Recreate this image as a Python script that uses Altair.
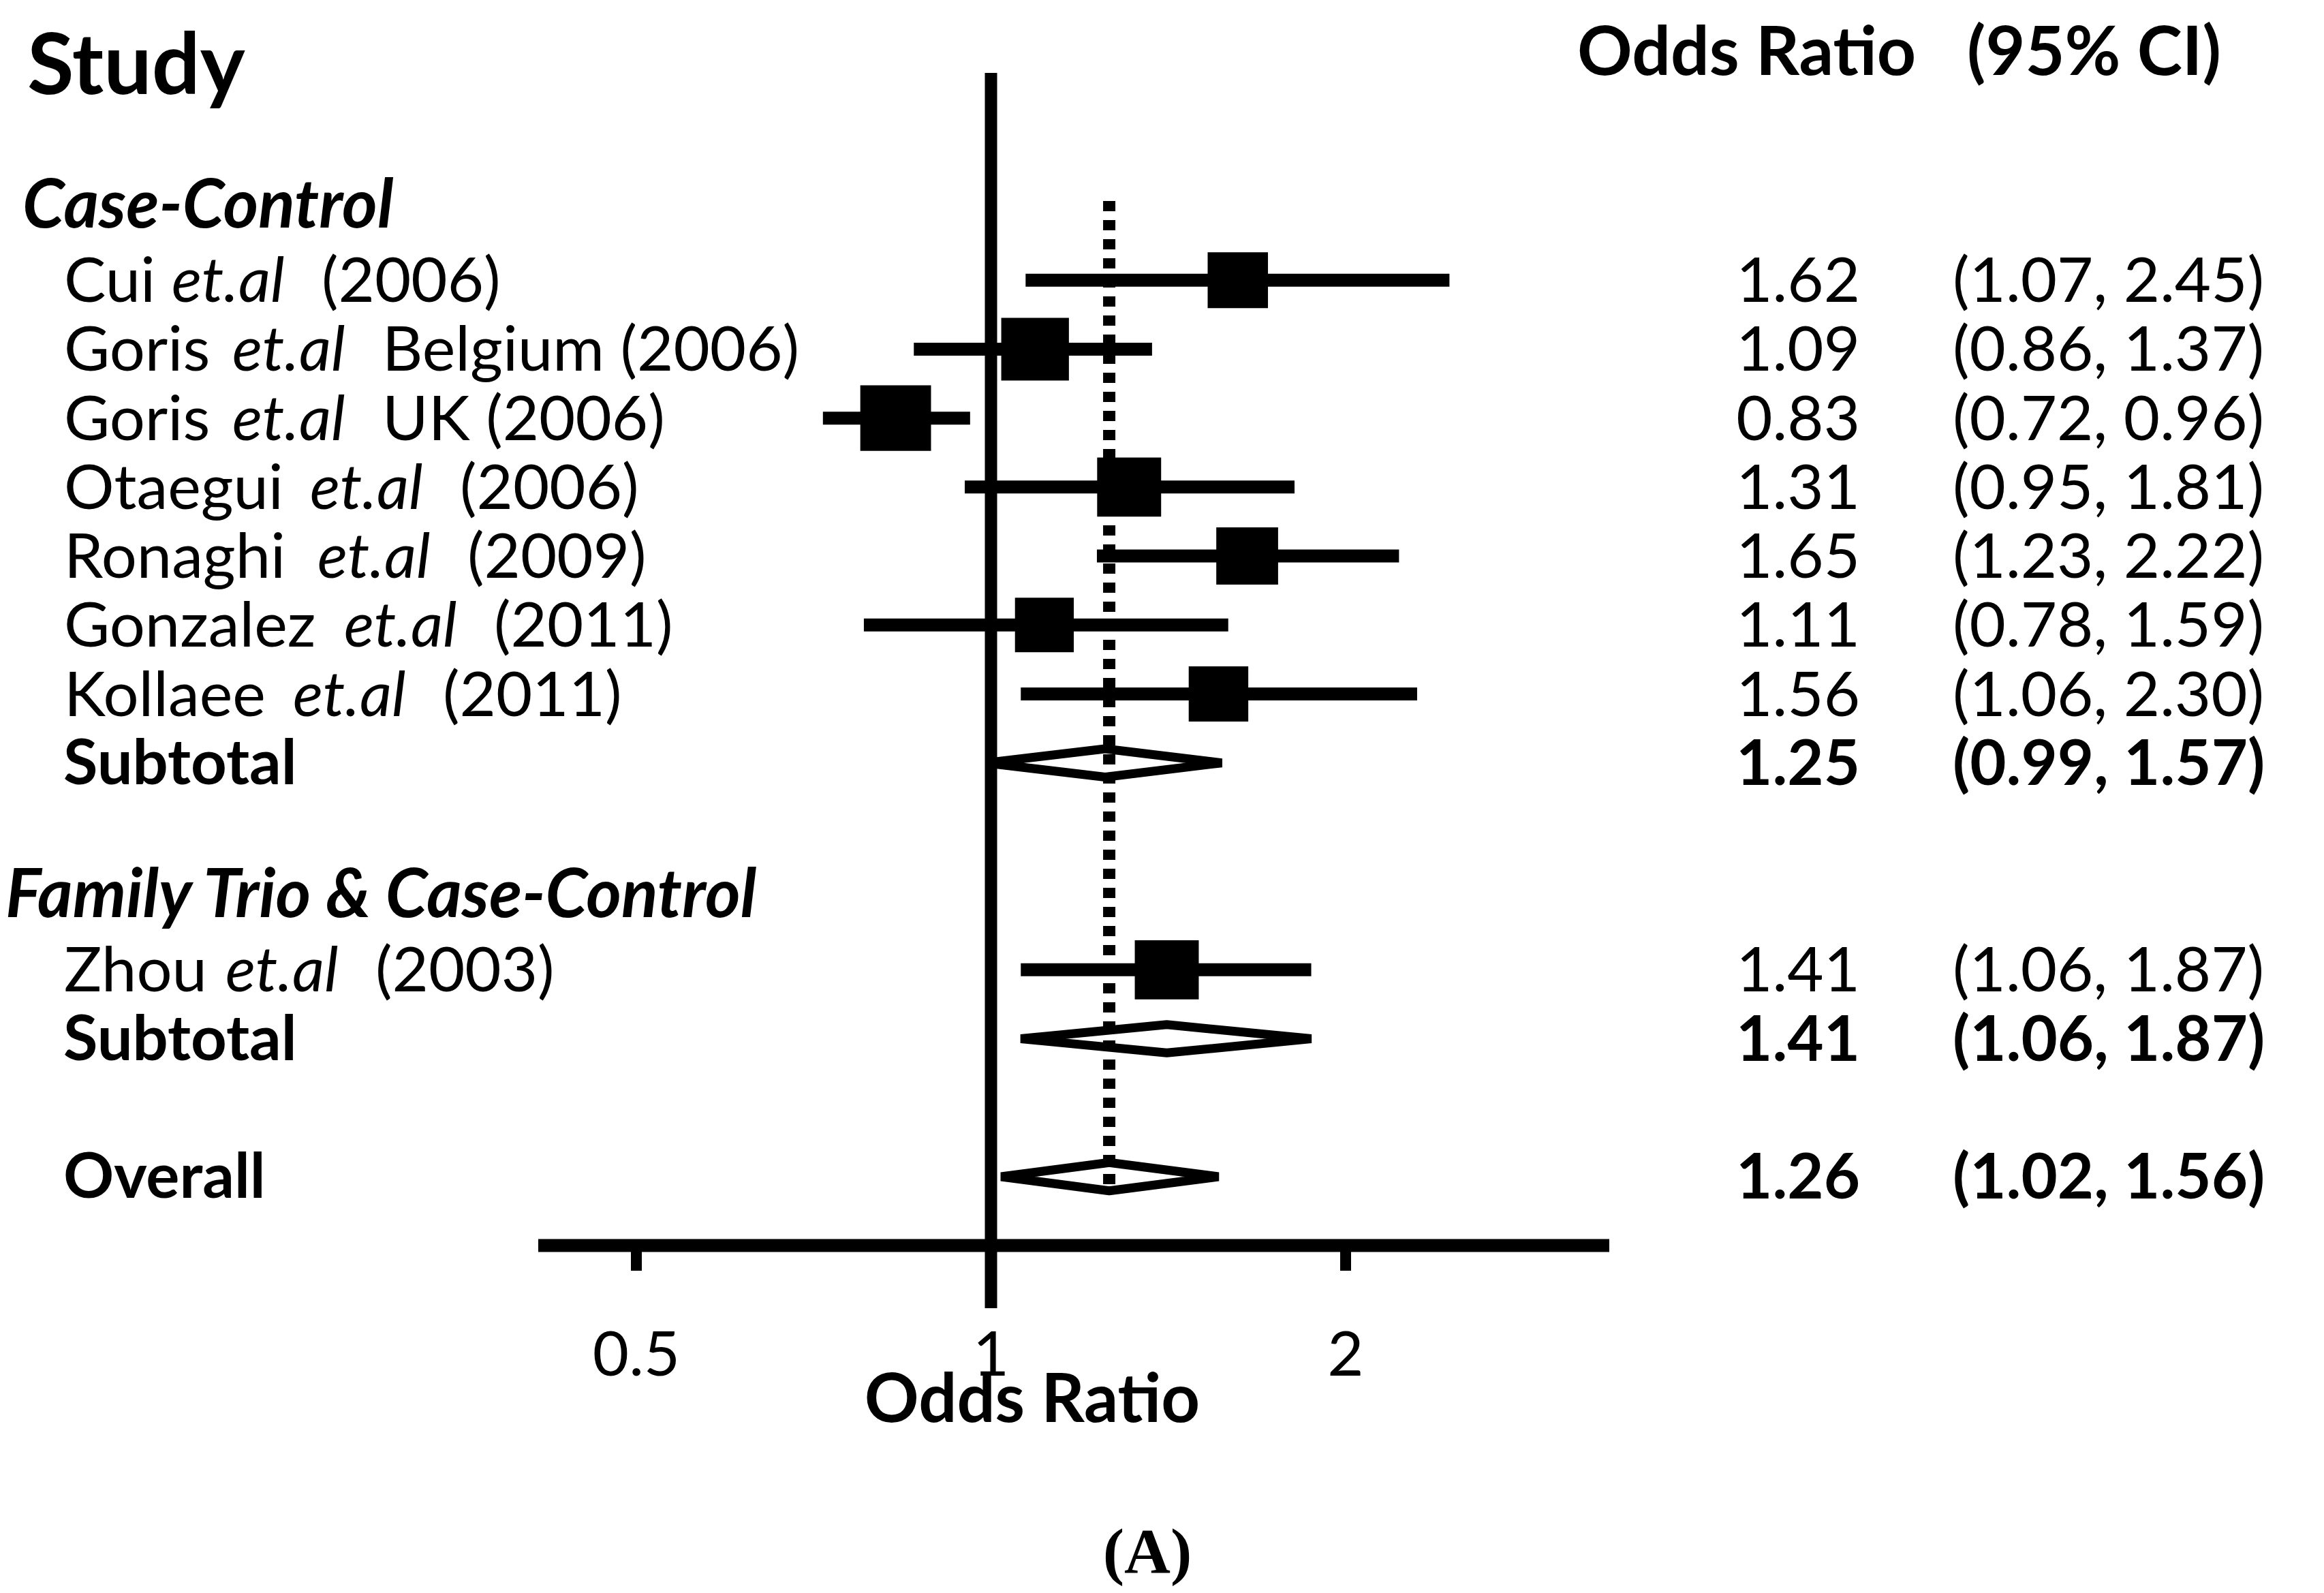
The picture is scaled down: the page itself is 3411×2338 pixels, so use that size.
import altair as alt
import pandas as pd

# ---------------- data ----------------
study_first = ["Cui", "Goris", "Goris", "Otaegui", "Ronaghi", "Gonzalez", "Kollaee", "Zhou"]
study_rest = ["(2006)", "Belgium (2006)", "UK (2006)", "(2006)", "(2009)", "(2011)", "(2011)", "(2003)"]
study_row = [1, 2, 3, 4, 5, 6, 7, 11]
study_or = [1.62, 1.09, 0.83, 1.31, 1.65, 1.11, 1.56, 1.41]
study_lo = [1.07, 0.86, 0.72, 0.95, 1.23, 0.78, 1.06, 1.06]
study_hi = [2.45, 1.37, 0.96, 1.81, 2.22, 1.59, 2.30, 1.87]
study_weight = [12.0, 15.1, 16.5, 13.5, 12.6, 11.4, 11.7, 13.5]

summary_label = ["Subtotal", "Subtotal", "Overall"]
summary_row = [8, 12, 14]
summary_or = [1.25, 1.41, 1.26]
summary_lo = [0.99, 1.06, 1.02]
summary_hi = [1.57, 1.87, 1.56]

group_label = ["Case-Control", "Family Trio & Case-Control"]
group_row = [0, 10]

tick_values = [0.5, 1, 2]
tick_labels = ["0.5", "1", "2"]

# ---------------- layout (pixels, styles) ----------------
W, H = 3395, 2326
label_et_x = [251, 340, 340, 454, 465, 504, 429, 330]   # x of the italic "et.al"
ET_SHIFT = -7
ET_WIDTH = 213
group_x = [25, 0]
FONT = "Lato"
BLACK = "#000000"

xscale = alt.Scale(type="log", domain=[0.5, 2], range=[926, 1967], nice=False)
yscale = alt.Scale(domain=[0, 14], range=[302, 1719], nice=False, zero=False)

studies = pd.DataFrame({
    "first": study_first,
    "rest": study_rest,
    "row": study_row,
    "est": study_or,
    "lo": study_lo,
    "hi": study_hi,
    "weight": study_weight,
    "et_x": label_et_x,
})
studies["rest_x"] = studies["et_x"] + ET_WIDTH
studies["et_x"] = studies["et_x"] + ET_SHIFT
studies["or_txt"] = [f"{v:.2f}" for v in study_or]
studies["ci_txt"] = [f"({a:.2f}, {b:.2f})" for a, b in zip(study_lo, study_hi)]

summ = pd.DataFrame({
    "label": summary_label,
    "row": summary_row,
    "est": summary_or,
    "lo": summary_lo,
    "hi": summary_hi,
})
summ["or_txt"] = [f"{v:.2f}" for v in summary_or]
summ["ci_txt"] = [f"({a:.2f}, {b:.2f})" for a, b in zip(summary_lo, summary_hi)]

HALF = 0.205
dia_rows = []
for i, (r, e, lo, hi) in enumerate(zip(summary_row, summary_or, summary_lo, summary_hi)):
    pts = [(lo, r), (e, r - HALF), (hi, r), (e, r + HALF)]
    for k, (xv, yv) in enumerate(pts):
        dia_rows.append({"grp": i, "ord": k, "x": xv, "y": yv})
diamonds = pd.DataFrame(dia_rows)

groups = pd.DataFrame({"label": group_label, "row": group_row, "gx": group_x})
ticks = pd.DataFrame({"t": tick_values, "lab": tick_labels})
one = pd.DataFrame({"a": [0]})

X = lambda f: alt.X(f, scale=xscale, axis=None)
Y = lambda f: alt.Y(f, scale=yscale, axis=None)

# reference line at OR = 1
ref_line = alt.Chart(pd.DataFrame({"v": [1.0]})).mark_rule(color=BLACK, strokeWidth=18).encode(
    x=X("v:Q"), y=alt.value(99), y2=alt.value(1912))

# dotted line at overall estimate
dotted = alt.Chart(pd.DataFrame({"v": [summary_or[-1]]})).mark_rule(
    color=BLACK, strokeWidth=18, strokeDash=[15, 13], strokeCap="butt").encode(
    x=X("v:Q"), y=alt.value(287), y2=alt.value(1737))

ci = alt.Chart(studies).mark_rule(color=BLACK, strokeWidth=19).encode(
    x=X("lo:Q"), x2="hi:Q", y=Y("row:Q"))

squares = alt.Chart(studies).mark_point(
    shape="M-1.08,-1H1.08V1H-1.08Z", filled=True, color=BLACK, opacity=1, strokeWidth=0).encode(
    x=X("est:Q"), y=Y("row:Q"),
    size=alt.Size("weight:Q", scale=alt.Scale(domain=[0, 20], range=[0, 11200]), legend=None))

dia = alt.Chart(diamonds).mark_line(
    color=BLACK, strokeWidth=13, interpolate="linear-closed", strokeJoin="bevel").encode(
    x=X("x:Q"), y=Y("y:Q"), order="ord:Q", detail="grp:N")

# axis
axis_line = alt.Chart(one).mark_rule(color=BLACK, strokeWidth=19).encode(
    x=alt.value(782), x2=alt.value(2354), y=alt.value(1820))
axis_ticks = alt.Chart(ticks).mark_rule(color=BLACK, strokeWidth=16).encode(
    x=X("t:Q"), y=alt.value(1820), y2=alt.value(1857))
axis_labels = alt.Chart(ticks).mark_text(
    font=FONT, fontSize=92, align="center", baseline="alphabetic", color=BLACK).encode(
    x=X("t:Q"), y=alt.value(2011), text="lab:N")
axis_title = alt.Chart(one).mark_text(
    font=FONT, fontSize=99, fontWeight="bold", align="center", baseline="alphabetic",
    color=BLACK, text="Odds Ratio").encode(x=alt.value(1507), y=alt.value(2079))
panel_tag = alt.Chart(one).mark_text(
    font="Liberation Serif", fontSize=94, fontWeight="bold", align="center",
    baseline="alphabetic", color=BLACK, text="(A)").encode(x=alt.value(1676), y=alt.value(2300))

# headers
h_study = alt.Chart(one).mark_text(
    font=FONT, fontSize=125, fontWeight="bold", align="left", baseline="alphabetic",
    color=BLACK, text="Study").encode(x=alt.value(32), y=alt.value(130))
h_or = alt.Chart(one).mark_text(
    font=FONT, fontSize=100, fontWeight="bold", align="left", baseline="alphabetic",
    color=BLACK, text="Odds Ratio").encode(x=alt.value(2307), y=alt.value(102))
h_ci = alt.Chart(one).mark_text(
    font=FONT, fontSize=100, fontWeight="bold", align="left", baseline="alphabetic",
    color=BLACK, text="(95% CI)").encode(x=alt.value(2879), y=alt.value(102))

grp_txt = alt.Chart(groups).mark_text(
    font=FONT, fontSize=99, fontWeight="bold", fontStyle="italic", align="left",
    baseline="alphabetic", dy=24, color=BLACK).encode(
    x=alt.X("gx:Q", scale=None), y=Y("row:Q"), text="label:N")

# study labels (mixed styles)
TXT = dict(font=FONT, fontSize=92, align="left", baseline="alphabetic", dy=32, color=BLACK)
lab_first = alt.Chart(studies).mark_text(**TXT).encode(
    x=alt.value(86), y=Y("row:Q"), text="first:N")
lab_et = alt.Chart(studies).mark_text(fontStyle="italic", **TXT).encode(
    x=alt.X("et_x:Q", scale=None), y=Y("row:Q"), text=alt.value("et.al"))
lab_rest = alt.Chart(studies).mark_text(**TXT).encode(
    x=alt.X("rest_x:Q", scale=None), y=Y("row:Q"), text="rest:N")

SUMTXT = dict(font=FONT, fontSize=92, fontWeight="bold", align="left",
              baseline="alphabetic", dy=31, color=BLACK)
sum_lab = alt.Chart(summ).mark_text(**SUMTXT).encode(
    x=alt.value(85), y=Y("row:Q"), text="label:N")

# numeric columns
NUM = dict(font=FONT, fontSize=92, baseline="alphabetic", dy=32, color=BLACK)
or_col = alt.Chart(studies).mark_text(align="right", **NUM).encode(
    x=alt.value(2722), y=Y("row:Q"), text="or_txt:N")
ci_col = alt.Chart(studies).mark_text(align="left", **NUM).encode(
    x=alt.value(2858), y=Y("row:Q"), text="ci_txt:N")
or_sum = alt.Chart(summ).mark_text(align="right", fontWeight="bold", **NUM).encode(
    x=alt.value(2722), y=Y("row:Q"), text="or_txt:N")
ci_sum = alt.Chart(summ).mark_text(align="left", fontWeight="bold", **NUM).encode(
    x=alt.value(2858), y=Y("row:Q"), text="ci_txt:N")

chart = alt.layer(
    ref_line, dotted, ci, squares, dia,
    axis_line, axis_ticks, axis_labels, axis_title, panel_tag,
    h_study, h_or, h_ci, grp_txt,
    lab_first, lab_et, lab_rest, sum_lab,
    or_col, ci_col, or_sum, ci_sum,
).properties(
    width=W, height=H, padding=0, autosize="none", background="white"
).configure_view(stroke=None)

chart.save("out.html", embed_options={"renderer": "svg", "actions": False})
